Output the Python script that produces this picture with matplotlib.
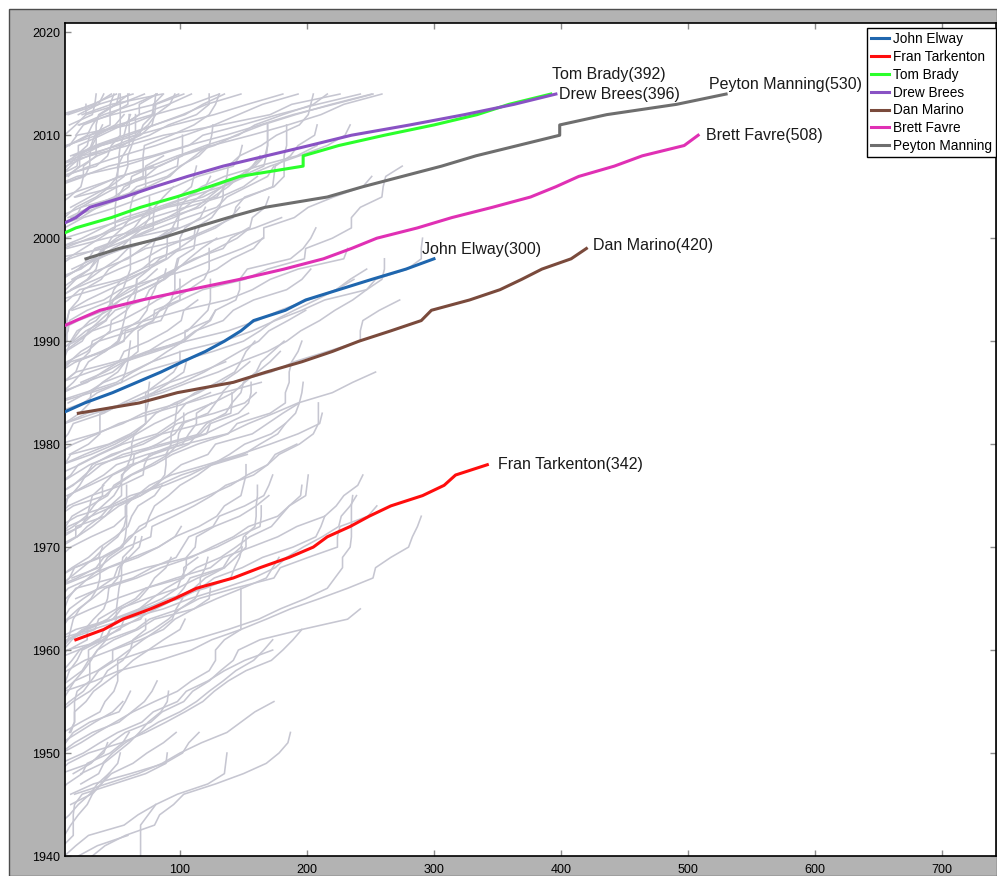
import matplotlib.pyplot as plt
from matplotlib.patches import Rectangle

plt.rcParams['font.family'] = ['Liberation Sans', 'DejaVu Sans']

# career passing touchdowns, running total at the end of each season
elway_first = 1983
elway_tds = [7, 25, 47, 66, 85, 102, 120, 135, 148, 158, 183, 199, 225, 251, 278, 300]

tarkenton_first = 1961
tarkenton_tds = [18, 40, 55, 77, 96, 113, 142, 163, 186, 205, 216, 234, 249, 266, 291, 308, 317, 342]

brady_first = 2000
brady_tds = [0, 18, 46, 69, 97, 123, 147, 197, 197, 225, 261, 300, 334, 359, 392]

brees_first = 2001
brees_tds = [1, 18, 29, 56, 80, 106, 134, 168, 202, 235, 281, 324, 363, 396]

marino_first = 1983
marino_tds = [20, 68, 98, 142, 168, 196, 220, 241, 266, 290, 298, 328, 352, 369, 385, 408, 420]

favre_first = 1991
favre_tds = [0, 18, 37, 70, 108, 147, 182, 213, 235, 255, 287, 314, 346, 376, 396, 414, 442, 464, 497, 508]

manning_first = 1998
manning_tds = [26, 52, 85, 111, 138, 167, 216, 244, 275, 306, 333, 366, 399, 399, 436, 491, 530]

# everybody else: (first season, running total per season)
careers_early = [
    (1930, [3, 6, 15, 24, 28, 39, 50, 58, 63, 66, 69, 69, 69, 69, 75, 81]),
    (1938, [8, 14, 20, 35, 59]),
    (1937, [8, 13, 19, 31, 41, 57, 80, 84, 95, 103, 128, 150, 168, 178, 185, 187]),
    (1939, [5, 9, 18, 28, 56, 67, 81, 98, 122, 135, 136, 137]),
    (1940, [0, 8, 16, 16, 16, 17, 23, 48, 73, 89, 90]),
    (1946, [17, 42, 67, 86, 100, 117, 137, 148, 159, 174]),
    (1945, [14, 30, 38, 46, 63, 74, 87, 97]),
    (1946, [14, 32, 61, 88, 102, 107, 115]),
    (1948, [22, 39, 47, 57, 70, 83, 100, 113, 123, 134, 144, 158, 166, 173]),
    (1948, [3, 12, 28, 54, 73, 89, 104, 118, 127, 138, 152, 172, 181, 189, 196]),
    (1949, [6, 24, 37, 51, 70, 79, 98, 105, 122, 135, 151, 173]),
    (1948, [16, 30, 38, 46, 57, 77, 86, 103, 110, 123, 132, 142, 146, 163, 196, 232, 242]),
    (1950, [7, 22, 35, 49, 63, 80, 98, 109, 123, 128, 128, 135, 148, 148, 148, 148, 148]),
    (1954, [4, 13, 24, 30, 36, 49, 60, 71, 83, 94, 97, 102]),
    (1954, [0, 7, 12, 17, 35, 47, 47, 69, 87, 96, 111, 123, 124]),
    (1952, [13, 17, 17, 17, 19, 29, 29, 29, 35, 48, 67, 80, 111, 129, 149, 168, 173, 178]),
    (1956, [1, 12, 23, 28, 28, 41, 45, 69, 74, 96, 103, 108, 134, 139, 148, 150, 159, 160, 160, 161, 161]),
    (1957, [0, 11, 25, 46, 64, 79, 91, 100, 112, 116, 116, 120, 122]),
    (1958, [0, 2, 4, 13, 23, 48, 73, 91, 120, 140, 143, 147, 149]),
    (1947, [22, 36, 40, 50, 60, 68, 75, 85, 90, 91]),
    (1950, [4, 10, 16, 29, 52, 57, 61]),
    (1949, [1, 6, 17, 31, 52, 62, 72, 78, 82]),
    (1952, [14, 17, 17, 26, 32, 43, 54, 63, 75, 87, 100, 104]),
    (1949, [0, 1, 7, 20, 33, 47, 55]),
    (1954, [8, 8, 8, 17, 24, 30, 35, 42, 45, 50, 50, 51, 52, 54, 54, 55, 63, 65]),
    (1954, [6, 16, 29, 38, 43, 55, 61, 63, 73, 73]),
    (1948, [6, 29, 40, 43]),
    (1946, [3, 11, 23, 27, 45, 55, 60]),
    (1941, [2, 9, 14, 20, 27, 31, 38, 44]),
    (1943, [4, 13, 20, 29, 35, 44, 51, 53]),
]

careers_mid = [
    (1956, [9, 33, 52, 84, 109, 125, 148, 168, 187, 210, 232, 252, 254, 266, 280, 283, 287, 290]),
    (1957, [5, 5, 6, 11, 43, 65, 76, 100, 115, 143, 174, 179, 201, 224, 224, 226, 248, 255]),
    (1957, [0, 1, 1, 2, 2, 31, 57, 87, 108, 134, 158, 175, 184, 197, 212, 225, 227, 234, 239]),
    (1957, [2, 8, 15, 21, 35, 53, 56, 70, 100, 116, 127, 149, 165, 189, 207, 211, 214]),
    (1962, [6, 12, 30, 50, 73, 97, 124, 134, 156, 177, 192, 214, 223, 229, 240, 244]),
    (1949, [0, 0, 0, 8, 22, 37, 41, 48, 51, 51, 51, 75, 111, 138, 162, 179, 199, 216,
            222, 228, 228, 234, 235, 235, 235, 235, 236]),
    (1961, [11, 33, 36, 50, 65, 73, 102, 113, 132, 144, 155, 172, 179, 186, 195, 196]),
    (1962, [3, 11, 20, 31, 41, 66, 85, 109, 125, 142, 154, 177, 186, 199, 200, 201]),
    (1965, [18, 37, 63, 78, 97, 102, 107, 126, 131, 151, 166, 170, 173]),
    (1956, [2, 10, 13, 19, 23, 39, 51, 66, 81, 97, 111, 120, 135, 144, 152, 152]),
    (1961, [2, 18, 47, 68, 86, 98, 101, 105, 105, 112, 113, 127, 147, 160, 170]),
    (1966, [0, 19, 34, 40, 54, 62, 68, 83, 103, 122, 140, 153, 169, 178, 194, 205, 209, 209, 209]),
    (1965, [0, 3, 13, 17, 38, 53, 60, 73, 76, 80, 91, 100, 114, 125, 139, 151, 172, 183]),
    (1970, [6, 19, 31, 41, 48, 66, 76, 93, 121, 147, 171, 193, 210, 212]),
    (1967, [15, 36, 46, 58, 77, 78, 95, 111, 125, 136, 158, 169, 175, 192]),
    (1970, [0, 1, 5, 19, 45, 61, 88, 108, 124, 150, 163, 177, 183, 191, 194]),
    (1969, [1, 3, 18, 18, 41, 52, 69, 83, 101, 126, 153]),
    (1971, [5, 12, 30, 48, 69, 80, 91, 101, 122, 128, 157, 169, 181, 194, 196, 197]),
    (1973, [2, 10, 12, 26, 40, 50, 74, 104, 137, 154, 174, 193, 220, 236, 254]),
    (1971, [3, 16, 26, 32, 39, 39, 47, 64, 79, 102, 107, 113, 113, 125]),
    (1973, [4, 16, 41, 50, 62, 80, 94, 114, 138, 145, 171, 183, 183, 186, 186, 188, 193, 196]),
    (1971, [19, 27, 38, 45, 54, 54, 54, 63, 64, 82, 96, 102, 122, 128, 134, 164]),
    (1963, [3, 9, 12, 18, 48, 73, 107, 129, 145, 163, 164, 164]),
    (1961, [0, 1, 1, 1, 1, 2, 22, 43, 63, 83, 96, 115, 129, 135, 148, 150, 152, 152]),
    (1960, [2, 11, 26, 43, 52, 74, 98, 114, 135]),
    (1960, [12, 27, 27, 47, 54, 68, 75, 80, 89, 93]),
    (1957, [0, 0, 0, 20, 37, 40, 53, 68, 78, 89, 103, 103, 114]),
    (1968, [1, 5, 14, 30, 48, 57, 57, 65, 82, 88, 89, 89, 93, 93, 96, 97, 98]),
    (1971, [7, 10, 15, 29, 43, 48, 61, 77, 91, 98, 99, 103, 103]),
    (1973, [4, 12, 30, 54, 71, 72, 76, 97, 121, 124]),
    (1974, [1, 2, 16, 25, 34, 62, 90, 120, 137, 154]),
    (1975, [11, 29, 46, 61, 89, 107, 114, 121, 136, 141, 148, 150, 160, 164, 173, 182]),
    (1974, [0, 0, 1, 3, 21, 37, 55, 82, 94, 106, 126, 142, 151, 161, 171, 179]),
    (1974, [1, 2, 3, 16, 29, 49, 66, 85, 98, 127, 151, 160]),
    (1975, [2, 15, 28, 38, 55, 86, 116, 124, 146, 154, 156, 156]),
    (1977, [0, 7, 30, 49, 64, 73, 81, 96, 115, 129, 143, 148, 152, 159]),
    (1976, [0, 0, 1, 1, 5, 33, 55, 71, 100, 112, 133, 145, 155]),
    (1971, [0, 0, 2, 5, 14, 21, 26, 31, 46, 71, 86, 118, 140, 141, 141]),
    (1958, [0, 2, 8, 15, 25, 32, 40, 43, 44, 51, 53, 58]),
    (1958, [0, 2, 7, 12, 14, 16, 21, 30, 35, 37, 37, 37]),
    (1963, [2, 4, 5, 12, 30, 44, 67, 83, 96, 101]),
    (1967, [3, 17, 36, 39]),
    (1965, [1, 5, 13, 23, 33, 41, 51, 56, 58, 58, 58, 58]),
    (1964, [3, 10, 19, 28, 38, 43, 55, 57, 58, 58]),
    (1970, [1, 8, 21, 30, 39, 48, 53, 55, 59, 62, 62, 64]),
    (1967, [0, 0, 0, 0, 4, 22, 27, 29, 31, 40]),
    (1976, [3, 14, 20, 36, 53, 66, 80, 98, 105, 124]),
    (1977, [2, 9, 14, 44, 61, 73, 73, 75, 75, 76]),
    (1980, [5, 12, 16, 40, 55, 72, 91, 103, 105]),
    (1962, [2, 8, 13, 24, 36, 48, 51, 60, 68, 70]),
    (1966, [1, 4, 15, 28, 37, 49, 59, 62, 67, 80, 86]),
]

careers_late = [
    (1979, [1, 16, 35, 52, 78, 106, 133, 141, 172, 190, 216, 242, 242, 244, 257, 273]),
    (1984, [12, 27, 40, 61, 78, 101, 134, 157, 175, 196, 214, 247, 254, 279, 290, 290, 291]),
    (1980, [0, 2, 9, 27, 59, 86, 107, 130, 148, 169, 184, 195, 210, 222, 236, 247, 259, 261, 261]),
    (1984, [3, 30, 54, 70, 98, 126, 150, 163, 174, 190, 207, 223, 234, 247]),
    (1986, [22, 41, 56, 81, 105, 138, 161, 179, 201, 223, 237]),
    (1979, [13, 28, 37, 37, 37, 59, 81, 102, 119, 133, 147, 162, 170, 185, 199]),
    (1985, [3, 8, 18, 21, 29, 31, 48, 73, 102, 137, 157, 171, 193, 229, 232]),
    (1989, [9, 20, 31, 54, 69, 82, 98, 110, 129, 141, 158, 165]),
    (1985, [1, 6, 29, 53, 74, 104, 104, 123, 128, 144, 147, 147, 153, 187, 197, 203, 207]),
    (1986, [8, 18, 49, 78, 101, 112, 134, 142, 158, 184, 196, 203]),
    (1987, [5, 18, 38, 55, 63, 71, 85, 101, 118, 151, 169, 198, 199, 220, 235, 235, 242, 259, 260, 262, 275]),
    (1993, [15, 40, 53, 80, 108, 128, 149, 166, 166, 190, 201, 221, 244, 251]),
    (1995, [14, 28, 39, 51, 59, 81, 100, 119, 132, 153, 173, 174, 175, 187, 193, 206, 208]),
    (1993, [0, 0, 15, 34, 52, 72, 86, 106, 125, 142, 144, 151, 174, 182, 182, 182, 184, 184, 184]),
    (1995, [0, 6, 20, 35, 47, 62, 83, 105, 129, 137, 153, 169, 174]),
    (1998, [0, 41, 62, 98, 99, 100, 106, 117, 135, 162, 192, 208]),
    (1999, [8, 29, 54, 71, 87, 118, 134, 152, 171, 194, 216, 230, 234]),
    (1997, [15, 32, 41, 54, 72, 90, 105, 132, 150, 161]),
    (1990, [16, 26, 41, 49, 72, 76, 87, 96, 111, 134, 140, 154]),
    (1988, [8, 11, 14, 19, 34, 41, 48, 63, 80, 96, 113, 129, 145, 155, 157, 167, 170]),
    (1984, [0, 25, 50, 63, 78, 90, 103, 113, 124, 128]),
    (1985, [8, 25, 47, 57, 75, 88, 106, 114, 122, 124, 124, 124]),
    (1987, [0, 0, 5, 15, 21, 29, 44, 53, 70, 88, 98, 107, 117, 129]),
    (1991, [0, 11, 13, 27, 44, 61, 75, 90, 100, 100, 104, 116, 120]),
    (1992, [0, 1, 5, 33, 57, 76, 84, 99, 111, 112, 125, 131, 134, 134]),
    (1988, [0, 3, 11, 11, 11, 13, 20, 24, 38, 44, 57, 73, 109, 128, 140, 147]),
    (1981, [4, 9, 33, 61, 79, 92, 116, 136]),
    (1978, [7, 25, 45, 64, 73, 73, 73, 73, 84, 95, 100, 100]),
    (1987, [2, 2, 2, 18, 30, 42, 45, 45, 48, 54, 70, 80, 104, 132, 159, 180]),
    (1983, [1, 24, 35, 54, 57, 59, 60, 61]),
    (1982, [9, 21, 29, 30, 39, 51, 57, 67, 67, 67, 79, 80, 100, 100, 100]),
    (1985, [5, 27, 39, 52, 56, 75, 90, 101, 103, 114]),
    (1981, [1, 1, 2, 3, 7, 16, 23, 28, 41, 52, 55, 68, 74, 76, 80, 83, 97, 99]),
    (1987, [0, 11, 27, 36, 62, 79, 84, 94, 107, 119, 123, 123, 123]),
    (1986, [0, 2, 13, 22, 36, 45, 46, 58, 64, 66, 66, 76, 76, 78, 81]),
    (1988, [5, 10, 23, 28, 37, 46, 47, 55, 58, 61, 61, 61, 61, 71, 76, 76, 76]),
    (1987, [5, 14, 41, 51, 54, 56, 58, 59, 65, 66]),
    (1988, [18, 40, 56, 57, 85, 89, 93, 96, 96, 96, 98, 111, 112, 115]),
    (1989, [1, 4, 4, 20, 41, 53, 70, 87, 89]),
    (1990, [0, 0, 0, 0, 12, 21, 53, 70, 89, 90, 90, 95]),
    (1984, [0, 0, 0, 0, 1, 4, 7, 12, 13, 27, 47, 59, 73, 82]),
]

careers_recent = [
    (1999, [0, 2, 9, 24, 50, 72, 96, 114, 142, 147, 164, 176, 194, 201, 203, 205]),
    (2004, [18, 50, 78, 98, 99, 120, 146, 159, 181, 205, 216]),
    (2004, [6, 30, 54, 77, 98, 125, 156, 185, 211, 229, 259]),
    (2004, [1, 1, 23, 44, 78, 106, 136, 163, 189, 221, 252]),
    (2004, [17, 34, 52, 84, 101, 127, 144, 165, 191, 219, 251]),
    (2004, [0, 0, 19, 55, 81, 107, 118, 149, 177, 208, 242]),
    (2005, [0, 0, 1, 29, 59, 87, 132, 171, 188, 226]),
    (2008, [16, 38, 66, 95, 127, 153, 181]),
    (2006, [9, 29, 54, 81, 104, 127, 146, 165, 193]),
    (2004, [1, 2, 5, 14, 23, 52, 76, 91, 113, 123, 123]),
    (2008, [14, 35, 60, 80, 102, 121, 148]),
    (1999, [11, 42, 74, 95, 113, 123, 133, 146, 159, 167, 169, 169, 169]),
    (1997, [1, 13, 36, 54, 66, 78, 104, 115, 127, 148, 166, 168, 169, 169, 169]),
    (1997, [0, 0, 3, 23, 39, 56, 82, 106, 133, 150, 157, 163]),
    (1994, [0, 0, 7, 20, 28, 33, 55, 68, 90, 116, 126, 138, 147, 157, 166]),
    (1999, [0, 33, 47, 65, 90, 129, 135, 137, 138, 147, 149]),
    (2002, [14, 36, 57, 66, 90, 101, 112, 122]),
    (1999, [3, 3, 3, 3, 22, 51, 75, 92, 100, 115, 123, 125, 126]),
    (2009, [13, 19, 60, 80, 109, 131]),
    (2005, [1, 3, 19, 20, 20, 38, 55, 68, 91, 109]),
    (2011, [20, 47, 80, 99]),
    (2011, [21, 40, 64, 82]),
    (2012, [26, 52, 72]),
    (2012, [23, 46, 86]),
    (2010, [18, 24, 45, 59, 59]),
    (2005, [3, 3, 11, 20, 33, 56, 80, 104, 118, 135]),
    (2009, [12, 29, 55, 68, 68, 82]),
    (2009, [10, 35, 51, 78, 80, 81]),
    (2005, [0, 1, 1, 22, 38, 65, 75, 81, 92, 96]),
    (1994, [2, 15, 27, 34, 36, 41, 46, 55, 61, 61, 63, 73, 73, 73, 87]),
    (1994, [2, 10, 18, 29, 34, 56, 84, 99]),
    (1996, [15, 29, 36, 53, 61, 79, 79, 80, 87, 95]),
    (1994, [1, 5, 17, 38, 59, 70, 82, 94, 98, 98, 99, 109, 111, 113]),
    (1995, [1, 1, 22, 33, 39, 50, 64, 70, 77]),
    (2000, [9, 35, 62, 86, 107, 120, 124]),
    (2000, [0, 0, 22, 35, 51, 56, 73, 83, 102, 102, 102]),
    (2001, [2, 18, 22, 36, 51, 71, 71, 71, 72, 93, 111, 123, 128, 131]),
    (2003, [14, 29, 44, 51, 51, 55, 60, 60, 60, 60]),
    (2002, [9, 18, 34, 45, 56, 59, 59, 62, 65, 65, 65]),
    (2002, [12, 29, 48, 60, 62, 79]),
    (2003, [0, 1, 2, 25, 29, 29, 30, 33, 49, 56]),
    (2005, [9, 9, 10, 28, 49, 69, 78, 80, 81, 103]),
    (2005, [0, 5, 34, 43, 46, 53, 53, 53, 53, 53]),
    (2005, [0, 10, 22, 35, 55, 68, 71, 79, 79, 87]),
    (2006, [12, 21, 21, 31, 35, 39]),
    (2008, [0, 12, 27, 31, 37, 50, 52]),
    (2012, [12, 36, 63]),
    (2012, [6, 33, 46]),
    (2011, [0, 10, 31, 50]),
    (2005, [0, 0, 5, 18, 27, 29, 45, 45, 45, 48]),
    (2011, [13, 31, 33, 34]),
    (2012, [20, 36, 40]),
    (2002, [2, 2, 13, 22, 24, 24, 34, 34, 34, 34, 36, 49, 60]),
    (1998, [11, 24, 37, 49, 49, 49, 50, 50, 50, 52, 52, 53, 56, 58, 61]),
    (2007, [0, 0, 2, 9, 18, 26, 26]),
]


def seasons(first, tds):
    return list(range(first, first + len(tds)))


fig = plt.figure(figsize=(9.97, 8.76), dpi=100, facecolor='white')
fig.patches.append(Rectangle((9 / 997, 0), 1 - 9 / 997, 1 - 9 / 876, transform=fig.transFigure,
                             facecolor='#b3b3b3', edgecolor='#4d4d4d', linewidth=1, zorder=-10))
ax = fig.add_axes([65 / 997, 20 / 876, 931 / 997, 833 / 876], zorder=1)
ax.set_facecolor('white')

for group in (careers_early, careers_mid, careers_late, careers_recent):
    for first, tds in group:
        ax.plot(tds, seasons(first, tds), color='#c6c6d1', linewidth=1.15, zorder=1)

stars = [
    ("John Elway", elway_first, elway_tds, '#1f66ae', (-8.6, 6.5)),
    ("Fran Tarkenton", tarkenton_first, tarkenton_tds, '#ff0d0d', (8, 0)),
    ("Tom Brady", brady_first, brady_tds, '#2bff2b', (0.7, 14.4)),
    ("Drew Brees", brees_first, brees_tds, '#8952c4', (2.2, 0)),
    ("Dan Marino", marino_first, marino_tds, '#7a4a3c', (5, 2.5)),
    ("Brett Favre", favre_first, favre_tds, '#e030b4', (5.8, 0)),
    ("Peyton Manning", manning_first, manning_tds, '#6e6e6e', (-12.2, 7.2)),
]

for name, first, tds, color, offset in stars:
    years = seasons(first, tds)
    ax.plot(tds, years, color=color, linewidth=2.2, label=name, zorder=3)
    ax.annotate(f"{name}({tds[-1]})", (tds[-1], years[-1]), xytext=offset,
                textcoords='offset points', ha='left', va='center',
                fontsize=11.5, color='#1a1a1a', zorder=4)

ax.set_xlim(9.5, 742.5)
ax.set_ylim(1940, 2020.9)
ax.set_xticks([100, 200, 300, 400, 500, 600, 700])
ax.set_yticks([1940, 1950, 1960, 1970, 1980, 1990, 2000, 2010, 2020])
ax.tick_params(direction='in', length=4, width=1, colors='#8c8c8c', labelcolor='black',
               labelsize=9, top=True, right=True)
ax.tick_params(axis='x', pad=6)
for spine in ax.spines.values():
    spine.set_color('black')
    spine.set_linewidth(1.2)

leg = ax.legend(loc='upper right', bbox_to_anchor=(1.0, 1 - 5 / 833), borderaxespad=0,
                fontsize=9.8, handlelength=1.3, handletextpad=0.3, labelspacing=0.28,
                borderpad=0.3, fancybox=False, framealpha=1)
leg.get_frame().set_edgecolor('black')
leg.get_frame().set_linewidth(1)

fig.savefig('out.png', dpi=100, facecolor=fig.get_facecolor())
